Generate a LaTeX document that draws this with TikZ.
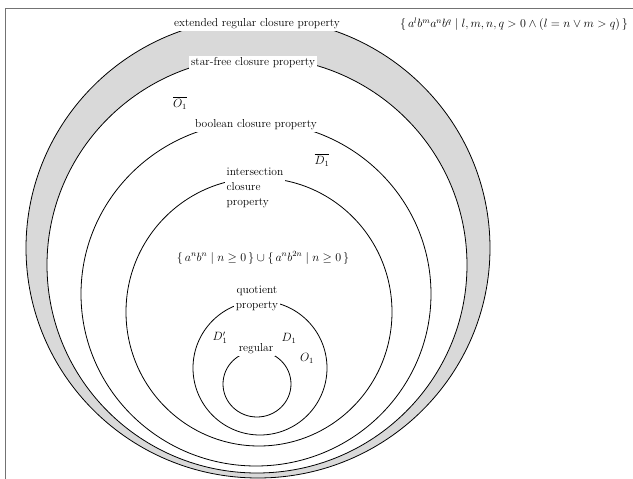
\documentclass[tikz,border=0pt]{standalone}
\usepackage{amssymb}
\definecolor{ringfill}{gray}{0.85}
\definecolor{framegray}{gray}{0.45}

\begin{document}
\begin{tikzpicture}[x=1pt, y=-1pt,
    font=\fontsize{11.5}{15}\selectfont,
    region/.style={draw, line width=0.8pt},
    tag/.style={fill=white, inner sep=2pt},
    sym/.style={inner sep=1pt},
]
    \useasboundingbox (0,0) rectangle (633,479);
    \draw[framegray, line width=1pt] (5,479) -- (5,8) -- (633,8);

    % nested closure classes
    \draw[region, fill=ringfill] (258,248) ellipse [x radius=232pt, y radius=230pt];
    \draw[region, fill=white] (257,265) ellipse [x radius=210pt, y radius=208pt];
    \draw[region] (256,294) ellipse [x radius=175pt, y radius=172pt];
    \draw[region] (259,312) ellipse [x radius=133pt, y radius=134pt];
    \draw[region] (260,368) ellipse [x radius=67pt, y radius=67pt];
    \draw[region] (257,384) ellipse [x radius=34pt, y radius=33pt];

    \node[tag] (ext) at (257,24) {extended regular closure property};
    \node[tag] (starfree) at (253,63) {star-free closure property};
    \node[tag] (bool) at (256,125) {boolean closure property};
    \node[tag, align=left] (inter) at (255,188) {intersection\\closure\\property};
    \node[tag, align=center] (quot) at (257,298) {quotient\\property};
    \node[tag] (reg) at (256,349) {regular};

    \node[sym] (ovO) at (180,103) {$\overline{O_1}$};
    \node[sym] (ovD) at (322,160) {$\overline{D_1}$};
    \node[sym] (setab) at (263,258)
        {$\{\, a^n b^n \mid n \geq 0 \,\} \cup \{\, a^n b^{2n} \mid n \geq 0 \,\}$};
    \node[sym] (Dp) at (220,338) {$D_1'$};
    \node[sym] (D) at (289,338) {$D_1$};
    \node[sym] (O) at (307,358) {$O_1$};
    \node[sym] (setabab) at (514,24)
        {$\{\, a^l b^m a^n b^q \mid l,m,n,q > 0 \wedge (l = n \vee m > q) \,\}$};

\end{tikzpicture}
\end{document}
